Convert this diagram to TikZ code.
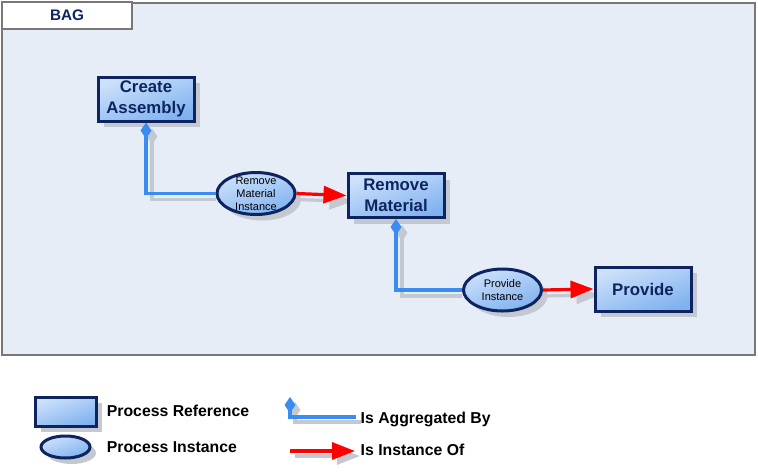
\documentclass[tikz,border=0pt]{standalone}
\usepackage{fontspec}
\setmainfont{Liberation Sans}
\usepackage{tikz}
\usetikzlibrary{arrows.meta}
\usetikzlibrary{shapes.geometric}
\usetikzlibrary{shadows}
\definecolor{panelfill}{RGB}{231,237,247}
\definecolor{panelline}{RGB}{120,120,120}
\definecolor{navy}{RGB}{14,36,96}
\definecolor{boxlight}{RGB}{205,225,250}
\definecolor{boxdark}{RGB}{128,178,240}
\definecolor{aggblue}{RGB}{58,140,240}
\definecolor{shadowgray}{RGB}{196,200,208}
\pgfdeclarelayer{background}
\pgfsetlayers{background,main}
\tikzset{
  procref/.style={rectangle, draw=navy, line width=3pt, top color=boxlight, bottom color=boxdark, shading angle=20,
    minimum width=96pt, minimum height=44pt, inner sep=0pt, align=center, text=navy,
    font=\bfseries\fontsize{16.8}{20.5}\selectfont,
    drop shadow={shadow xshift=6pt, shadow yshift=-6pt, fill=shadowgray, opacity=1}},
  procinst/.style={ellipse, draw=navy, line width=3pt, top color=boxlight, bottom color=boxdark, shading angle=20,
    minimum width=78pt, minimum height=42pt, inner sep=0pt,
    drop shadow={shadow xshift=6pt, shadow yshift=-6pt, fill=shadowgray, opacity=1}},
  insttext/.style={align=center, font=\fontsize{11}{12.8}\selectfont},
  aggr/.style={draw=aggblue, line width=3.2pt, {Diamond[length=16pt,width=11pt,fill=aggblue]}-},
  aggrshadow/.style={draw=shadowgray, line width=3.2pt, {Diamond[length=16pt,width=11pt,fill=shadowgray]}-},
  inst/.style={draw=red, line width=3.2pt, -{Triangle[length=23pt,width=17pt]}},
  instshadow/.style={draw=shadowgray, line width=3.2pt, -{Triangle[length=23pt,width=17pt]}},
  legtext/.style={anchor=base west, inner sep=0pt, font=\bfseries\fontsize{15.8}{18}\selectfont}
}
\begin{document}
\begin{tikzpicture}[x=1pt, y=-1pt]
  \useasboundingbox (0,0) rectangle (758,475);
  % bag panel
  \begin{pgfonlayer}{background}
    \filldraw[fill=panelfill, draw=panelline, line width=2pt] (2,3) rectangle (755,355);
  \end{pgfonlayer}
  \node[draw=panelline, fill=white, line width=1.8pt, minimum width=130pt, minimum height=27pt, inner sep=0pt] (bagtab) at (67,15.5) {};
  \node[anchor=base, inner sep=0pt, text=navy, font=\bfseries\fontsize{15.3}{18}\selectfont] (baglabel) at (67,20.7) {BAG};
  % process references
  \node[procref] (ca) at (146,99) {Create\\Assembly};
  \node[procref] (rm) at (396,195.5) {Remove\\Material};
  \node[procref] (pr) at (643,289) {Provide};
  % process instances
  \node[procinst, label={[insttext]center:Remove\\Material\\Instance}] (rmi) at (256,193.5) {};
  \node[procinst, label={[insttext]center:Provide\\Instance}] (pri) at (502.5,290) {};
  % connector shadows
  \begin{pgfonlayer}{background}
    \draw[aggrshadow] ([shift={(6,6)}]ca.south) |- ([shift={(0,6)}]rmi.west);
    \draw[aggrshadow] ([shift={(6,6)}]rm.south) |- ([shift={(0,6)}]pri.west);
    \draw[instshadow] ([shift={(0,6)}]rmi.east) -- ([shift={(6,6)}]rm.west);
    \draw[instshadow] ([shift={(0,6)}]pri.east) -- ([shift={(6,6)}]pr.west);
  \end{pgfonlayer}
  % is aggregated by
  \draw[aggr] (ca.south) |- (rmi.west);
  \draw[aggr] (rm.south) |- (pri.west);
  % is instance of
  \draw[inst] (rmi.east) -- (rm.west);
  \draw[inst] (pri.east) -- (pr.west);
  % legend
  \node[procref, minimum width=61pt, minimum height=29pt] (legref) at (65.5,411.5) {};
  \node[procinst, minimum width=49pt, minimum height=22pt] (legins) at (65.5,447) {};
  \node[legtext] (legreftext) at (106.7,416.5) {Process Reference};
  \node[legtext] (leginstext) at (106.7,452.7) {Process Instance};
  \coordinate (aggA) at (290,397);
  \coordinate (aggB) at (356,417);
  \coordinate (insA) at (290,451);
  \coordinate (insB) at (355,451);
  \begin{pgfonlayer}{background}
    \draw[aggrshadow] ([shift={(5,5)}]aggA) |- ([shift={(5,5)}]aggB);
    \draw[instshadow] ([shift={(5,5)}]insA) -- ([shift={(5,5)}]insB);
  \end{pgfonlayer}
  \draw[aggr] (aggA) |- (aggB);
  \draw[inst] (insA) -- (insB);
  \node[legtext] (aggtext) at (360.5,423.3) {Is Aggregated By};
  \node[legtext] (institext) at (360.5,455.7) {Is Instance Of};
\end{tikzpicture}
\end{document}
